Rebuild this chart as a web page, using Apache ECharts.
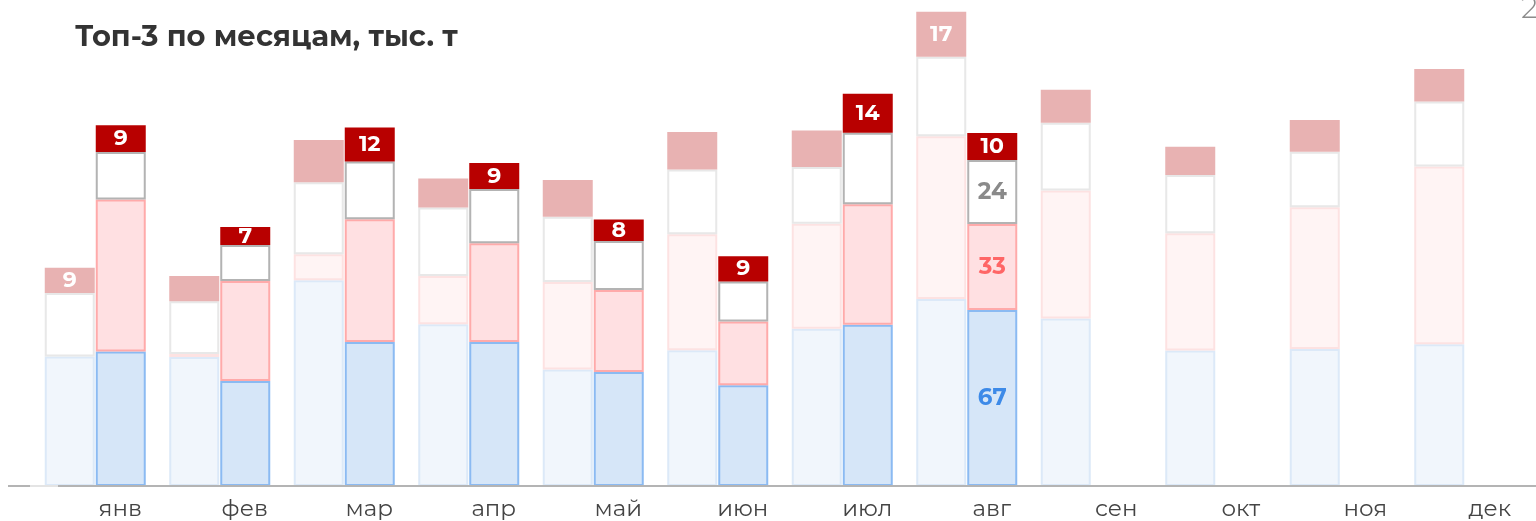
<!DOCTYPE html>
<html>
<head>
<meta charset="utf-8">
<script src="https://cdn.jsdelivr.net/npm/echarts@6/dist/echarts.min.js"></script>
<style>
html,body{margin:0;padding:0;background:#fff;}
#chart{width:1536px;height:521px;}
</style>
</head>
<body>
<div id="chart"></div>
<script>
const months = ['янв','фев','мар','апр','май','июн','июл','авг','сен','окт','ноя','дек'];

// previous year (faded stack)
const prevBlue  = [49.0, 48.8, 77.8, 61.2, 44.1, 51.3, 59.5, 70.7, 63.3, 51.2, 51.8, 53.6];
const prevPink  = [null, 1.1, 9.8, 18.2, 33.0, 43.9, 39.7, 61.6, 48.4, 44.4, 53.6, 67.2];
const prevWhite = [24.0, 20.0, 27.3, 25.9, 24.7, 24.5, 21.4, 30.0, 25.7, 22.0, 21.0, 24.6];
const prevTop   = [9.5, 9.5, 15.9, 11.0, 13.9, 14.2, 13.8, 17.0, 12.4, 10.7, 12.0, 12.3];
const prevTopLabels = ['9','','','','','','','17','','','',''];

// current year
const curBlue  = [50.9, 39.7, 54.5, 54.5, 43.1, 38.1, 61.0, 66.6, null, null, null, null];
const curPink  = [57.4, 37.8, 46.4, 37.3, 31.0, 24.1, 45.5, 32.5, null, null, null, null];
const curWhite = [18.0, 13.6, 21.8, 20.5, 18.5, 15.1, 27.1, 24.2, null, null, null, null];
const curTop   = [10.1, 6.8, 12.9, 9.8, 8.2, 9.6, 14.7, 10.2, null, null, null, null];
const curTopLabels   = ['9','7','12','9','8','9','14','10','','','',''];
const curWhiteLabels = ['','','','','','','','24','','','',''];
const curPinkLabels  = ['','','','','','','','33','','','',''];
const curBlueLabels  = ['','','','','','','','67','','','',''];

const FONT = "'Montserrat','Noto Sans',sans-serif";

function seg(name, stack, data, fill, border, bw, labels, labelColor, labelSize) {
  return {
    name: name, type: 'bar', stack: stack, data: data,
    barWidth: 50, barGap: '2%',
    itemStyle: { color: fill, borderColor: border, borderWidth: bw },
    emphasis: { disabled: true },
    label: {
      show: !!labels, position: 'inside',
      formatter: p => labels ? labels[p.dataIndex] : '',
      color: labelColor, fontFamily: FONT, fontWeight: 'bold', fontSize: labelSize
    }
  };
}

const chart = echarts.init(document.getElementById('chart'), null, { renderer: 'canvas' });
chart.setOption({
  animation: false,
  backgroundColor: '#ffffff',
  title: {
    text: 'Топ-3 по месяцам, тыс. т',
    left: 70, top: 18,
    textStyle: { fontFamily: FONT, fontWeight: 'bold', fontSize: 29, color: '#333333' }
  },
  grid: { left: 33, right: 9, top: 10, bottom: 35, containLabel: false, outerBoundsMode: 'none' },
  xAxis: {
    type: 'category', data: months,
    axisLine: { show: false }, axisTick: { show: false },
    axisLabel: {
      color: '#444444', fontFamily: FONT, fontSize: 23, margin: 12,
      padding: [0, 0, 0, 50]
    }
  },
  yAxis: { type: 'value', min: 0, max: 180, show: false, splitLine: { show: false } },
  graphic: [
    { type: 'line', shape: { x1: 8, y1: 486, x2: 1536, y2: 486 },
      style: { stroke: '#b4b4b4', lineWidth: 2 }, z: 100 },
    { type: 'line', shape: { x1: 30, y1: 486, x2: 58, y2: 486 },
      style: { stroke: '#e4e4e4', lineWidth: 2 }, z: 101 },
    { type: 'text', left: 1521, top: -6,
      style: { text: '2025', fill: '#8c8c8c', font: '300 30px ' + FONT } }
  ],
  series: [
    seg('prevBlue',  'prev', prevBlue,  '#f1f6fc', '#dce9f8', 2),
    seg('prevPink',  'prev', prevPink,  '#fff4f4', '#fde2e2', 2),
    seg('prevWhite', 'prev', prevWhite, '#ffffff', '#e8e8e8', 2),
    seg('prevTop',   'prev', prevTop,   '#e8b2b2', '#e8b2b2', 0, prevTopLabels, '#ffffff', 22),
    seg('curBlue',   'cur',  curBlue,   '#d6e6f8', '#8bbaf2', 2, curBlueLabels, '#3d8ae8', 23),
    seg('curPink',   'cur',  curPink,   '#ffe0e2', '#ffaaaa', 2, curPinkLabels, '#ff6666', 23),
    seg('curWhite',  'cur',  curWhite,  '#ffffff', '#b3b3b3', 2, curWhiteLabels, '#8a8a8a', 23),
    seg('curTop',    'cur',  curTop,    '#b80000', '#b80000', 0, curTopLabels, '#ffffff', 22)
  ]
});
</script>
</body>
</html>
